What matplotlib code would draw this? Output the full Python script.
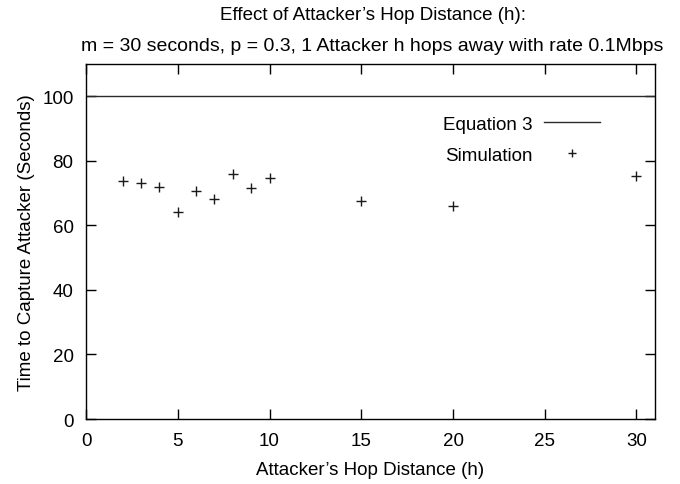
import matplotlib
matplotlib.use('Agg')
import matplotlib.pyplot as plt

plt.rcParams['font.family'] = ['Liberation Sans', 'DejaVu Sans']

# data
hops = [2, 3, 4, 5, 6, 7, 8, 9, 10, 15, 20, 30]
sim_time = [73.8, 73.2, 72.0, 64.0, 70.5, 68.3, 75.9, 71.6, 74.6, 67.7, 65.9, 75.3]
eq3_x = [0, 31]
eq3_y = [100, 100]

x_ticks = [0, 5, 10, 15, 20, 25, 30]
y_ticks = [0, 20, 40, 60, 80, 100]

fs = 13.5

fig = plt.figure(figsize=(6.8, 4.85), dpi=100)
ax = fig.add_axes([0.1265, 0.134, 0.8365, 0.732])

ax.plot(eq3_x, eq3_y, color='#2a2a2a', lw=1.0, label='Equation 3')
ax.plot(hops, sim_time, ls='none', marker='+', ms=6.5, mew=1.0, color='#1a1a1a', label='Simulation')

ax.set_xlim(0, 31)
ax.set_ylim(0, 110)
ax.set_xticks(x_ticks)
ax.set_yticks(y_ticks)
ax.tick_params(direction='in', length=7, width=1, top=True, right=True, labelsize=fs, pad=9)
for s in ax.spines.values():
    s.set_linewidth(1.0)

ax.set_xlabel("Attacker\u2019s Hop Distance (h)", fontsize=fs, labelpad=9)
ax.set_ylabel('Time to Capture Attacker (Seconds)', fontsize=fs, labelpad=5)

fig.text(0.548, 0.969, "Effect of Attacker\u2019s Hop Distance (h):", ha='center', va='center', fontsize=fs)
fig.text(0.548, 0.905, "m = 30 seconds, p = 0.3, 1 Attacker h hops away with rate 0.1Mbps",
         ha='center', va='center', fontsize=14)

ax.legend(loc='upper right', bbox_to_anchor=(0.903, 0.855), frameon=False, markerfirst=False,
          fontsize=fs, handlelength=2.95, handletextpad=0.65, labelspacing=0.76,
          borderpad=0, borderaxespad=0, markerscale=0.8)

fig.savefig('out.png', dpi=100)
